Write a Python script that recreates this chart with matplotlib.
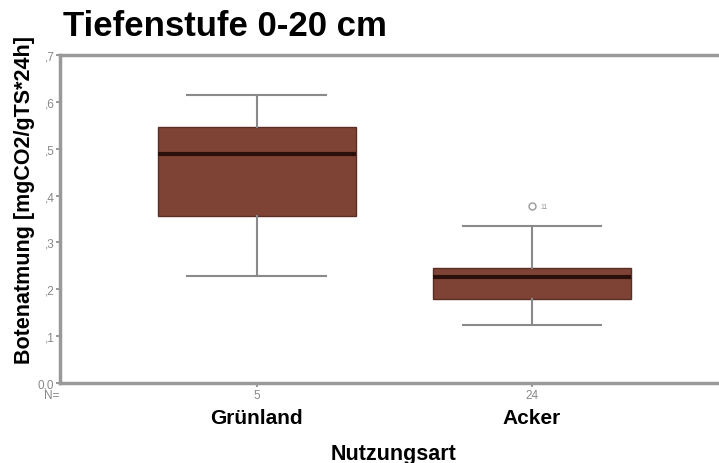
import matplotlib
matplotlib.use("Agg")
import matplotlib.pyplot as plt

# box plot values
gruppen = ["Grünland", "Acker"]
anzahl = [5, 24]
median = [0.488, 0.226]
q1 = [0.356, 0.179]
q3 = [0.546, 0.245]
whisker_lo = [0.228, 0.124]
whisker_hi = [0.614, 0.335]
ausreisser = [[], [0.377]]
ausreisser_nr = [[], ["11"]]

yticks = [0.0, 0.1, 0.2, 0.3, 0.4, 0.5, 0.6, 0.7]
ylabels = ["0,0", ",1", ",2", ",3", ",4", ",5", ",6", ",7"]

plt.rcParams["font.family"] = ["Liberation Sans", "DejaVu Sans"]

fig = plt.figure(figsize=(7.19, 4.64), dpi=100)
ax = fig.add_axes([0.0834, 0.1724, 0.9305, 0.7069])

stats = []
for i in range(len(gruppen)):
    stats.append(dict(med=median[i], q1=q1[i], q3=q3[i],
                      whislo=whisker_lo[i], whishi=whisker_hi[i],
                      fliers=ausreisser[i], label=gruppen[i]))

pos = [1, 2]
ax.bxp(stats, positions=pos, widths=0.72, capwidths=0.505, patch_artist=True,
       boxprops=dict(facecolor="#7f4336", edgecolor="#5a2e25", linewidth=1.0),
       medianprops=dict(color="#2a0f0a", linewidth=3),
       whiskerprops=dict(color="#8a8a8a", linewidth=1.5),
       capprops=dict(color="#8a8a8a", linewidth=1.5),
       flierprops=dict(marker="o", markersize=5, markerfacecolor="none",
                       markeredgecolor="#999999", markeredgewidth=1.0))

for i, nrs in enumerate(ausreisser_nr):
    for v, nr in zip(ausreisser[i], nrs):
        ax.text(pos[i] + 0.03, v, nr, fontsize=5, color="#999999", va="center")

ax.set_xlim(0.284, 2.716)
ax.set_ylim(0, 0.7)
ax.set_yticks(yticks)
ax.set_yticklabels(ylabels, fontsize=8.5, color="#888888")
ax.tick_params(axis="y", length=3, width=1.2, color="#888888", pad=1)
ax.set_xticks(pos)
ax.set_xticklabels([str(n) for n in anzahl], fontsize=8.5, color="#888888")
ax.tick_params(axis="x", length=3, width=1.2, color="#888888", pad=1)

for s in ["left", "top", "bottom", "right"]:
    ax.spines[s].set_color("#999999")
    ax.spines[s].set_linewidth(2.5)

fig.text(52 / 719, 1 - 396 / 464, "N=", fontsize=8.5, color="#888888",
         ha="center", va="center")
for i, g in enumerate(gruppen):
    ax.text(pos[i], 1 - 419 / 464, g, fontsize=15, fontweight="bold",
            ha="center", va="center",
            transform=matplotlib.transforms.blended_transform_factory(ax.transData, fig.transFigure))

fig.text(394 / 719, 1 - 455 / 464, "Nutzungsart", fontsize=15.5, fontweight="bold",
         ha="center", va="center")
fig.text(25 / 719, 1 - 200 / 464, "Botenatmung [mgCO2/gTS*24h]", fontsize=15.5,
         fontweight="bold", rotation=90, ha="center", va="center")
fig.text(63 / 719, 1 - 27 / 464, "Tiefenstufe 0-20 cm", fontsize=25,
         fontweight="bold", ha="left", va="center")

fig.savefig("out.png", dpi=100)
